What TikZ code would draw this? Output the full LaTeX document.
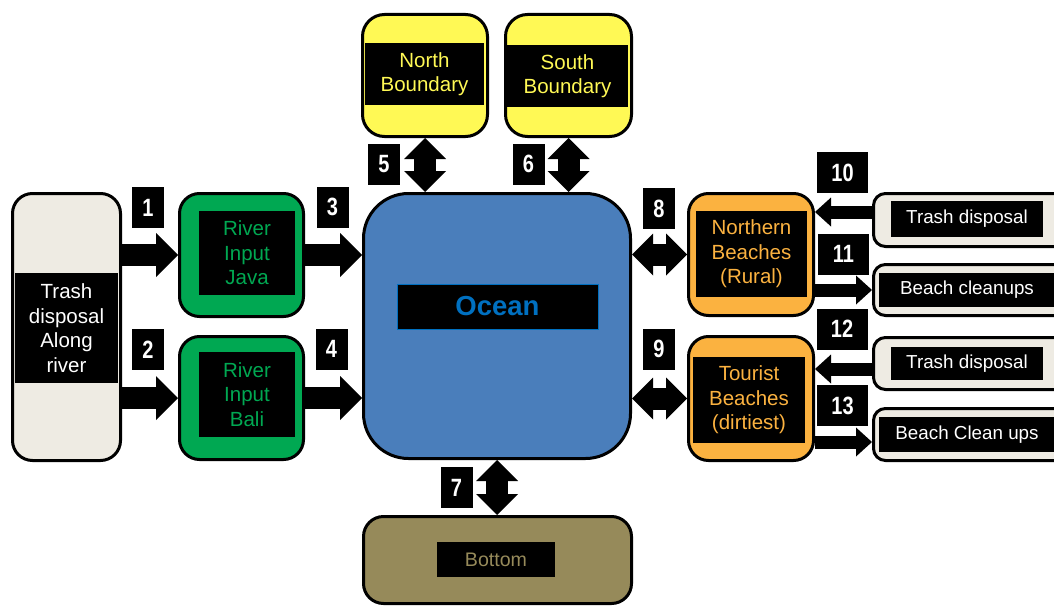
\documentclass[tikz,border=0pt]{standalone}
\usepackage{fontspec}
\setmainfont{Liberation Sans}
\newfontfamily\numfont[FakeStretch=0.8]{Liberation Sans}
\usetikzlibrary{arrows.meta}
\definecolor{beige}{RGB}{238,235,227}
\definecolor{rivergreen}{RGB}{0,168,82}
\definecolor{oceanblue}{RGB}{74,126,187}
\definecolor{oceantext}{RGB}{0,112,192}
\definecolor{bndyellow}{RGB}{255,249,85}
\definecolor{beachorange}{RGB}{251,178,64}
\definecolor{olive}{RGB}{150,138,90}
\begin{document}
\begin{tikzpicture}[x=1pt,y=-1pt,
  box/.style={draw=black, line width=3pt, inner sep=0pt, rounded corners=20pt},
  lbl/.style={fill=black, inner sep=0pt, align=center, font=\fontsize{20.5}{24.5}\selectfont},
  rlbl/.style={fill=black, inner sep=0pt, text=white, font=\fontsize{18.8}{22}\selectfont},
  num/.style={fill=black, text=white, inner sep=0pt, minimum height=41pt, font=\numfont\bfseries\fontsize{25}{25}\selectfont},
  num1/.style={num, minimum width=32pt},
  num2/.style={num, minimum width=51pt},
  bigarrow/.style={line width=22pt, -{Triangle[length=22pt,width=44pt,line width=0pt]}},
  dblarrow/.style={line width=22pt, {Triangle[length=21pt,width=42pt,line width=0pt]}-{Triangle[length=21pt,width=42pt,line width=0pt]}},
  smallarrow/.style={line width=13pt, -{Triangle[length=16pt,width=29pt,line width=0pt]}}
]
\useasboundingbox (0,0) rectangle (1054,607);

% outer boxes
\node[box, fill=beige, minimum width=108pt, minimum height=267pt] (trash) at (66.5,327) {};
\node[box, fill=rivergreen, minimum width=124pt, minimum height=123pt] (java) at (241.5,255) {};
\node[box, fill=rivergreen, minimum width=124pt, minimum height=123pt] (bali) at (241.5,398) {};
\node[box, fill=oceanblue, rounded corners=45pt, minimum width=267pt, minimum height=265pt] (ocean) at (497,326) {};
\node[box, fill=bndyellow, rounded corners=22pt, minimum width=125pt, minimum height=122pt] (north) at (425,75.5) {};
\node[box, fill=bndyellow, rounded corners=22pt, minimum width=126pt, minimum height=122pt] (south) at (568.5,75.5) {};
\node[box, fill=olive, minimum width=268pt, minimum height=87pt] (bottom) at (497.5,560) {};
\node[box, fill=beachorange, minimum width=125pt, minimum height=122pt] (northern) at (751,254.5) {};
\node[box, fill=beachorange, minimum width=125pt, minimum height=124pt] (tourist) at (751,398.5) {};
\node[box, fill=beige, rounded corners=12pt, minimum width=200pt, minimum height=53pt] (td1) at (973.5,220) {};
\node[box, fill=beige, rounded corners=12pt, minimum width=200pt, minimum height=51pt] (bc1) at (973.5,290) {};
\node[box, fill=beige, rounded corners=12pt, minimum width=200pt, minimum height=52pt] (td2) at (973.5,363.5) {};
\node[box, fill=beige, rounded corners=12pt, minimum width=200pt, minimum height=52pt] (bc2) at (973.5,434.5) {};

% inner labels
\node[lbl, text=white, minimum width=103pt, minimum height=110pt] (trashL) at (66.5,328) {Trash\\disposal\\Along\\river};
\node[lbl, text=rivergreen, minimum width=96pt, minimum height=84pt] (javaL) at (247,253) {River\\Input\\Java};
\node[lbl, text=rivergreen, minimum width=96pt, minimum height=85pt] (baliL) at (247,394.5) {River\\Input\\Bali};
\node[fill=black, draw=oceantext, line width=0.8pt, inner sep=0pt, text=oceantext, font=\bfseries\fontsize{27.5}{30}\selectfont, minimum width=201pt, minimum height=45pt] (oceanL) at (497.5,306.5) {Ocean};
\node[lbl, text=bndyellow, minimum width=119pt, minimum height=62pt] (northL) at (424.5,74) {North\\Boundary};
\node[lbl, text=bndyellow, minimum width=121pt, minimum height=62pt] (southL) at (567.5,76) {South\\Boundary};
\node[lbl, text=olive, font=\fontsize{19.6}{22}\selectfont, minimum width=118pt, minimum height=35pt] (bottomL) at (496,559.5) {Bottom};
\node[lbl, text=beachorange, minimum width=111pt, minimum height=86pt] (northernL) at (751.5,254) {Northern\\Beaches\\(Rural)};
\node[lbl, text=beachorange, minimum width=112pt, minimum height=86pt] (touristL) at (749,400) {Tourist\\Beaches\\(dirtiest)};
\node[rlbl, minimum width=152pt, minimum height=36pt] (td1L) at (967,219) {Trash disposal};
\node[rlbl, minimum width=176pt, minimum height=34pt] (bc1L) at (967,290) {Beach cleanups};
\node[rlbl, minimum width=152pt, minimum height=33pt] (td2L) at (967,363.5) {Trash disposal};
\node[rlbl, minimum width=176pt, minimum height=35pt] (bc2L) at (967,434.5) {Beach Clean ups};

% connectors
\draw[bigarrow] (trash.east |- java.west) -- (java.west);
\draw[bigarrow] (trash.east |- bali.west) -- (bali.west);
\draw[bigarrow] (java.east) -- (java.east -| ocean.west);
\draw[bigarrow] (bali.east) -- (bali.east -| ocean.west);
\draw[dblarrow] (north.south) -- (north.south |- ocean.north);
\draw[dblarrow] (south.south) -- (south.south |- ocean.north);
\draw[dblarrow] (ocean.south) -- (ocean.south |- bottom.north);
\draw[dblarrow] (ocean.east |- northern.west) -- (northern.west);
\draw[dblarrow] (ocean.east |- tourist.west) -- (tourist.west);
\coordinate (a10) at ([yshift=8pt]td1.west);
\coordinate (a12) at ([yshift=-5.5pt]td2.west);
\coordinate (a13) at ([yshift=-7.5pt]bc2.west);
\draw[smallarrow] (a10) -- (a10 -| northern.east);
\draw[smallarrow] (northern.east |- bc1.west) -- (bc1.west);
\draw[smallarrow] (a12) -- (a12 -| tourist.east);
\draw[smallarrow] (tourist.east |- a13) -- (a13);

% number labels
\node[num1] (n1) at (148,207.5) {1};
\node[num1] (n2) at (148,349.5) {2};
\node[num1] (n3) at (332.5,207) {3};
\node[num1] (n4) at (331.5,349) {4};
\node[num1] (n5) at (384,164) {5};
\node[num1] (n6) at (528.5,164) {6};
\node[num1] (n7) at (456.5,487.5) {7};
\node[num1] (n8) at (659,208.5) {8};
\node[num1] (n9) at (659,349) {9};
\node[num2] (n10) at (842.5,172.5) {10};
\node[num2] (n11) at (843.5,254) {11};
\node[num2] (n12) at (842,329) {12};
\node[num2] (n13) at (842.5,405.5) {13};
\end{tikzpicture}
\end{document}
